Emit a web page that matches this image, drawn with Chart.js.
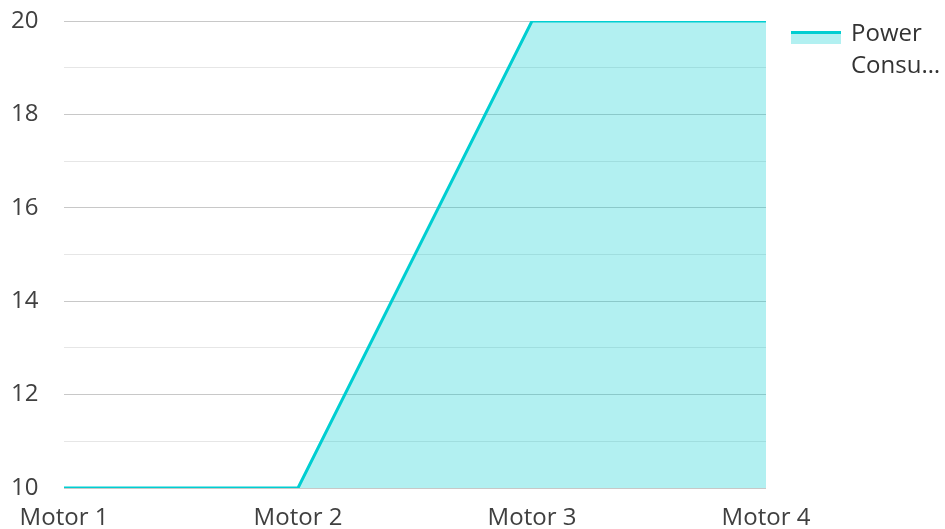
<!DOCTYPE html>
<html><head><meta charset="utf-8">
<script src="https://cdn.jsdelivr.net/npm/chart.js@4/dist/chart.umd.min.js"></script>
<style>html,body{margin:0;padding:0;overflow:hidden;background:#fff;width:945px;height:529px}canvas{display:block}</style>
</head><body><canvas id="c" width="945" height="545"></canvas>
<script>
const categories = ['Motor 1', 'Motor 2', 'Motor 3', 'Motor 4'];
const powerValues = [10, 10, 20, 20];
const seriesLabel = 'Power Consumption';
const yMin = 10;
const yMax = 20;

const FONT = '"Open Sans", "Noto Sans", sans-serif';
const lineColor = '#00CED1';
const fillColor = 'rgba(0,206,209,0.3)';

function wrapTruncate(ctx, text, maxW, maxLines) {
  const words = text.split(' ');
  const lines = [];
  let cur = '';
  for (const w of words) {
    const t = cur ? cur + ' ' + w : w;
    if (ctx.measureText(t).width <= maxW || !cur) { cur = t; } else { lines.push(cur); cur = w; }
  }
  if (cur) lines.push(cur);
  let out = lines.slice(0, maxLines);
  let last = out[out.length - 1];
  if (lines.length > maxLines || ctx.measureText(last).width > maxW) {
    while (last.length > 1 && ctx.measureText(last + '…').width > maxW) last = last.slice(0, -1);
    out[out.length - 1] = last + '…';
  }
  return out;
}

const legendPlugin = {
  id: 'customLegend',
  afterDraw(chart) {
    const ctx = chart.ctx;
    const area = chart.chartArea;
    const ds = chart.data.datasets[0];
    const bx = area.right + 25, by = 31;
    ctx.save();
    ctx.fillStyle = ds.backgroundColor;
    ctx.fillRect(bx, by, 50, 13);
    ctx.fillStyle = ds.borderColor;
    ctx.fillRect(bx, by, 50, 3);
    ctx.font = '24px ' + FONT;
    ctx.fillStyle = '#333333';
    ctx.textBaseline = 'alphabetic';
    const tx = bx + 60;
    const lines = wrapTruncate(ctx, ds.label, chart.width - tx - 2, 2);
    lines.forEach((l, i) => ctx.fillText(l, tx, 41 + i * 32));
    ctx.restore();
  }
};

new Chart(document.getElementById('c'), {
  type: 'line',
  data: {
    labels: categories,
    datasets: [{
      label: seriesLabel,
      data: powerValues,
      borderColor: lineColor,
      backgroundColor: fillColor,
      borderWidth: 3,
      pointRadius: 0,
      tension: 0,
      fill: 'start'
    }]
  },
  options: {
    responsive: false,
    animation: false,
    devicePixelRatio: 1,
    layout: { padding: { left: 11, top: 21, right: 179, bottom: 0 } },
    plugins: { legend: { display: false }, tooltip: { enabled: false } },
    scales: {
      x: {
        grid: { display: false, drawTicks: false },
        border: { display: false },
        ticks: { font: { family: FONT, size: 24 }, color: '#404040', padding: 16, maxRotation: 0 },
        afterFit(s) { s.height = 57; }
      },
      y: {
        min: yMin, max: yMax,
        grid: {
          drawTicks: false,
          color: c => (c.tick && c.tick.value % 2 === 0) ? '#c8c8c8' : '#e6e6e6'
        },
        border: { display: false },
        ticks: {
          stepSize: 1,
          autoSkip: false,
          crossAlign: 'far',
          padding: 0,
          font: { family: FONT, size: 24 },
          color: '#404040',
          callback: v => (v % 2 === 0 ? String(v) : '')
        },
        afterFit(s) { s.width = 53; }
      }
    }
  },
  plugins: [legendPlugin]
});
</script>
</body></html>
